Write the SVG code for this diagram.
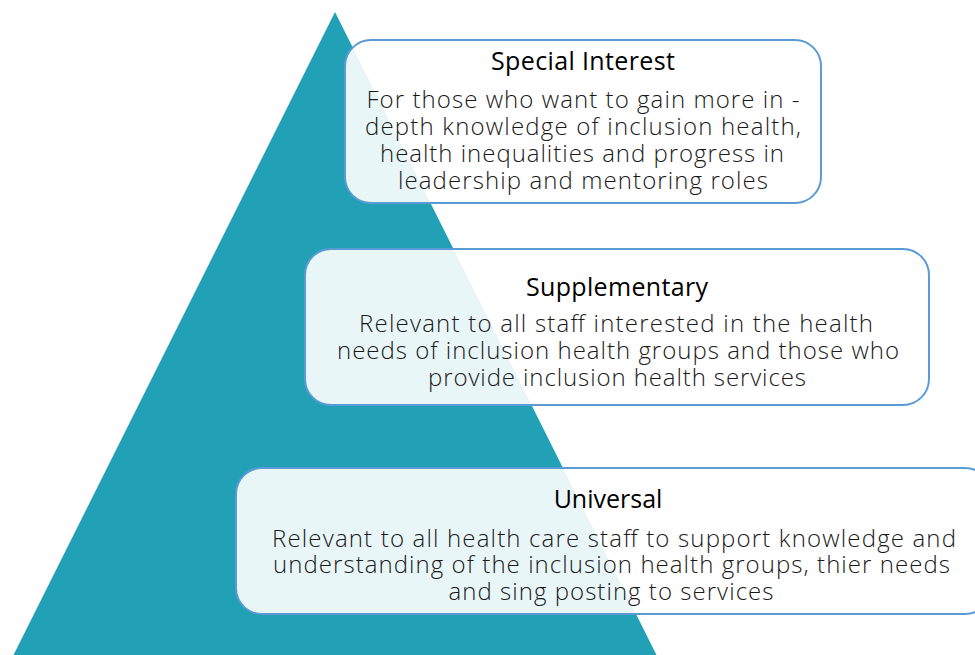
<svg xmlns="http://www.w3.org/2000/svg" width="975" height="655" viewBox="0 0 975 655">
<style>
.box{fill:#ffffff;fill-opacity:0.9;stroke:#5b9bd5;stroke-width:2}
.t{font-family:"Open Sans","Noto Sans",sans-serif;font-size:25px;fill:#000;text-anchor:middle}
.b{font-family:"Open Sans","Noto Sans",sans-serif;font-weight:300;font-size:24px;fill:#1a1a1a;text-anchor:middle}
</style>
<rect width="975" height="655" fill="#ffffff"/>
<polygon id="pyramid" points="335,12 657,656 13,656" fill="#22a1b6"/>
<g id="special-interest">
<rect class="box" x="345" y="40" width="476" height="163" rx="26"/>
<text class="t" x="583" y="70" textLength="184">Special Interest</text>
<text class="b" x="583" y="108" textLength="433">For those who want to gain more in -</text>
<text class="b" x="583" y="135" textLength="436">depth knowledge of inclusion health,</text>
<text class="b" x="582" y="162" textLength="404">health inequalities and progress in</text>
<text class="b" x="583" y="189" textLength="370">leadership and mentoring roles</text>
</g>
<g id="supplementary">
<rect class="box" x="305" y="249" width="624" height="156" rx="26"/>
<text class="t" x="617" y="296" textLength="182">Supplementary</text>
<text class="b" x="616" y="332" textLength="514">Relevant to all staff interested in the health</text>
<text class="b" x="618" y="359" textLength="562">needs of inclusion health groups and those who</text>
<text class="b" x="617" y="386" textLength="378">provide inclusion health services</text>
</g>
<g id="universal">
<rect class="box" x="236" y="468" width="755" height="146" rx="26"/>
<text class="t" x="608" y="508">Universal</text>
<text class="b" x="614" y="547" textLength="684">Relevant to all health care staff to support knowledge and</text>
<text class="b" x="611.5" y="573" textLength="677">understanding of the inclusion health groups, thier needs</text>
<text class="b" x="611" y="600" textLength="325">and sing posting to services</text>
</g>
<g id="connectors"></g>
</svg>
